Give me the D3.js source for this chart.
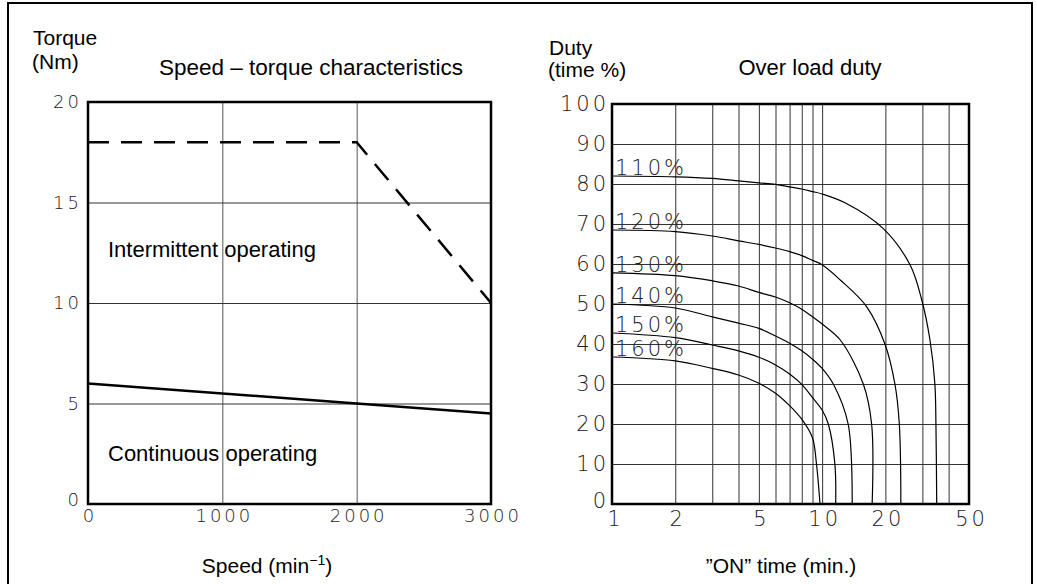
<!DOCTYPE html>
<html>
<head>
<meta charset="utf-8">
<script src="https://cdn.jsdelivr.net/npm/d3@7"></script>
<style>
  html, body { margin: 0; padding: 0; background: #fff; }
  svg { display: block; }
  .lbl { font-family: "Liberation Sans", Arial, sans-serif; fill: #000; }
  .tick text { font-family: "DejaVu Sans", sans-serif; font-weight: 200; fill: #222; }
  .domain { display: none; }
</style>
</head>
<body>
<svg id="chart" width="1037" height="584"></svg>
<script>
// ---------- data ----------
const speedTicks = [0, 1000, 2000, 3000];
const torqueTicks = [0, 5, 10, 15, 20];
const intermittentSpeed = [0, 2000, 3000];
const intermittentTorque = [18, 18, 10];
const continuousSpeed = [0, 2000, 3000];
const continuousTorque = [6, 5, 4.5];

const dutyTicks = [0, 10, 20, 30, 40, 50, 60, 70, 80, 90, 100];
const timeTickLabels = [1, 2, 5, 10, 20, 50];
const timeGrid = [2, 3, 4, 5, 6, 7, 8, 9, 10, 20, 30, 40];
const overloadNames = ["110%", "120%", "130%", "140%", "150%", "160%"];

const time110 = [1, 2, 3, 4, 5, 6, 7, 8, 9, 10, 12.85, 19.5, 26.2, 29.8, 32.6, 34.4, 34.8, 35.1];
const duty110 = [82, 81.8, 81.4, 80.8, 80.3, 79.9, 79.3, 78.75, 78.1, 77.5, 75.3, 68.9, 59.8, 51, 41, 30, 20, 0];
const time120 = [1, 2, 3, 4, 5, 6, 7, 8, 9, 10, 12.2, 16.3, 19.9, 22.2, 23.3, 23.7];
const duty120 = [68.5, 68.1, 67, 65.8, 64.9, 64, 63.1, 62.1, 60.9, 59.8, 56, 49.3, 40, 30, 20, 0];
const time130 = [1, 2, 3, 4, 5, 6, 7, 8, 9, 10, 12.2, 15.7, 17.2, 17.3];
const duty130 = [57.8, 57.1, 55.8, 54.5, 52.9, 51.75, 50.3, 48.7, 46.8, 45, 41, 30, 20, 0];
const time140 = [1, 2, 3, 4, 5, 6, 7, 8, 9, 10, 11.3, 13.3, 13.9];
const duty140 = [50, 49, 46.8, 45.2, 43.9, 42, 40.2, 38.3, 36.2, 33.9, 30, 20, 0];
const time150 = [1, 2, 3, 4, 5, 6, 7, 8, 9, 10, 10.7, 11.5, 11.6];
const duty150 = [42.75, 41.6, 39.75, 38.3, 36.7, 34.75, 32.5, 29.9, 26.6, 23.5, 20, 10, 0];
const time160 = [1, 2, 3, 4, 5, 6, 7, 8, 9, 9.4, 9.77];
const duty160 = [36.75, 35.8, 33.9, 32.25, 30.2, 27.7, 24.6, 21.2, 16.5, 10, 0];

const curveTimes = [time110, time120, time130, time140, time150, time160];
const curveDuties = [duty110, duty120, duty130, duty140, duty150, duty160];

// ---------- drawing ----------
const svg = d3.select("#chart");

// outer frame
svg.append("rect").attr("x", 8).attr("y", 3).attr("width", 1024).attr("height", 620)
  .attr("fill", "none").attr("stroke", "#000").attr("stroke-width", 2);

// ===== Left chart =====
const L = { x0: 88, x1: 491, y0: 102, y1: 504 };
const xL = d3.scaleLinear().domain([0, 3000]).range([L.x0, L.x1]);
const yL = d3.scaleLinear().domain([0, 20]).range([L.y1, L.y0]);
const gL = svg.append("g");

// grid
gL.append("g").attr("transform", `translate(0,${L.y1})`)
  .call(d3.axisBottom(xL).tickValues(speedTicks.slice(1, -1)).tickSize(-(L.y1 - L.y0)).tickFormat(""))
  .selectAll("line").attr("stroke", "#555").attr("stroke-width", 1);
gL.append("g").attr("transform", `translate(${L.x0},0)`)
  .call(d3.axisLeft(yL).tickValues(torqueTicks.slice(1, -1)).tickSize(-(L.x1 - L.x0)).tickFormat(""))
  .selectAll("line").attr("stroke", "#333").attr("stroke-width", 1);

// tick labels
const axL = gL.append("g").attr("transform", `translate(${L.x0 - 2},0)`)
  .call(d3.axisLeft(yL).tickValues(torqueTicks).tickSize(0).tickPadding(4).tickFormat(d3.format("d")));
axL.selectAll("text").style("font-size", "18px").style("letter-spacing", "3px");
axL.selectAll(".tick").filter(d => d === 0).select("text").attr("dy", "0.1em");
const axB = gL.append("g").attr("transform", `translate(0,${L.y1 + 2})`)
  .call(d3.axisBottom(xL).tickValues(speedTicks).tickSize(0).tickPadding(3).tickFormat(d3.format("d")));
axB.selectAll("text").style("font-size", "18px").style("letter-spacing", "3px").attr("dx", "1.5px");

// lines
const lineL = d3.line().x(d => xL(d[0])).y(d => yL(d[1]));
gL.append("path").datum(d3.zip(intermittentSpeed, intermittentTorque))
  .attr("d", lineL).attr("fill", "none").attr("stroke", "#000")
  .attr("stroke-width", 2.5).attr("stroke-dasharray", "21,12");
gL.append("path").datum(d3.zip(continuousSpeed, continuousTorque))
  .attr("d", lineL).attr("fill", "none").attr("stroke", "#000").attr("stroke-width", 2.5);

// frame
gL.append("rect").attr("x", L.x0).attr("y", L.y0).attr("width", L.x1 - L.x0).attr("height", L.y1 - L.y0)
  .attr("fill", "none").attr("stroke", "#000").attr("stroke-width", 2.5);

// texts
gL.append("text").attr("class", "lbl").attr("x", 33).attr("y", 45).style("font-size", "21px").text("Torque");
gL.append("text").attr("class", "lbl").attr("x", 32).attr("y", 69).style("font-size", "21px").text("(Nm)");
gL.append("text").attr("class", "lbl").attr("x", 311).attr("y", 75).attr("text-anchor", "middle")
  .style("font-size", "22.5px").text("Speed – torque characteristics");
gL.append("text").attr("class", "lbl").attr("x", 108).attr("y", 257).style("font-size", "22px").text("Intermittent operating");
gL.append("text").attr("class", "lbl").attr("x", 108).attr("y", 461).style("font-size", "22px").text("Continuous operating");
const sp = gL.append("text").attr("class", "lbl").attr("x", 267).attr("y", 573).attr("text-anchor", "middle")
  .style("font-size", "21px");
sp.append("tspan").text("Speed (min");
sp.append("tspan").attr("dy", -8).style("font-size", "14px").text("−1");
sp.append("tspan").attr("dy", 8).text(")");

// ===== Right chart =====
const R = { x0: 612, x1: 969, y0: 104, y1: 504 };
const xR = d3.scaleLog().domain([1, 50]).range([R.x0, R.x1]);
const yR = d3.scaleLinear().domain([0, 100]).range([R.y1, R.y0]);
const gR = svg.append("g");

gR.append("g").attr("transform", `translate(0,${R.y1})`)
  .call(d3.axisBottom(xR).tickValues(timeGrid).tickSize(-(R.y1 - R.y0)).tickFormat(""))
  .selectAll("line").attr("stroke", "#333").attr("stroke-width", 1);
gR.append("g").attr("transform", `translate(${R.x0},0)`)
  .call(d3.axisLeft(yR).tickValues(dutyTicks.slice(1, -1)).tickSize(-(R.x1 - R.x0)).tickFormat(""))
  .selectAll("line").attr("stroke", "#333").attr("stroke-width", 1);

const axRL = gR.append("g").attr("transform", `translate(${R.x0 - 2},0)`)
  .call(d3.axisLeft(yR).tickValues(dutyTicks).tickSize(0).tickPadding(1));
axRL.selectAll("text").style("font-size", "21px").style("letter-spacing", "3px");
axRL.selectAll(".tick").filter(d => d === 0).select("text").attr("dy", "0.15em");
const axRB = gR.append("g").attr("transform", `translate(0,${R.y1 + 5})`)
  .call(d3.axisBottom(xR).tickValues(timeTickLabels).tickSize(0).tickPadding(2).tickFormat(d3.format("d")));
axRB.selectAll("text").style("font-size", "21px").style("letter-spacing", "3px").attr("dx", "2px");
axRB.selectAll(".tick").filter(d => d === 1).select("text").attr("dx", "3px");

const lineR = d3.line().x(d => xR(d[0])).y(d => yR(d[1])).curve(d3.curveCatmullRom.alpha(0.5));
curveTimes.forEach((ts, i) => {
  const pts = d3.zip(ts, curveDuties[i]);
  gR.append("path").datum(pts).attr("d", lineR)
    .attr("fill", "none").attr("stroke", "#000").attr("stroke-width", 1.2);
  gR.append("text").attr("class", "tick")
    .attr("x", R.x0 + 3).attr("y", yR(curveDuties[i][0]) - 1)
    .append("tspan").text(overloadNames[i]);
});
gR.selectAll("text.tick").style("font-family", "DejaVu Sans, sans-serif").style("font-weight", 200)
  .style("fill", "#222").style("font-size", "21px").style("letter-spacing", "3px");

gR.append("rect").attr("x", R.x0).attr("y", R.y0).attr("width", R.x1 - R.x0).attr("height", R.y1 - R.y0)
  .attr("fill", "none").attr("stroke", "#000").attr("stroke-width", 2.5);

gR.append("text").attr("class", "lbl").attr("x", 549).attr("y", 55).style("font-size", "21px").text("Duty");
gR.append("text").attr("class", "lbl").attr("x", 548).attr("y", 77).style("font-size", "21px").text("(time %)");
gR.append("text").attr("class", "lbl").attr("x", 810).attr("y", 75).attr("text-anchor", "middle")
  .style("font-size", "22px").text("Over load duty");
gR.append("text").attr("class", "lbl").attr("x", 781).attr("y", 573).attr("text-anchor", "middle")
  .style("font-size", "21px").text("\u201DON\u201D time (min.)");
</script>
</body>
</html>
